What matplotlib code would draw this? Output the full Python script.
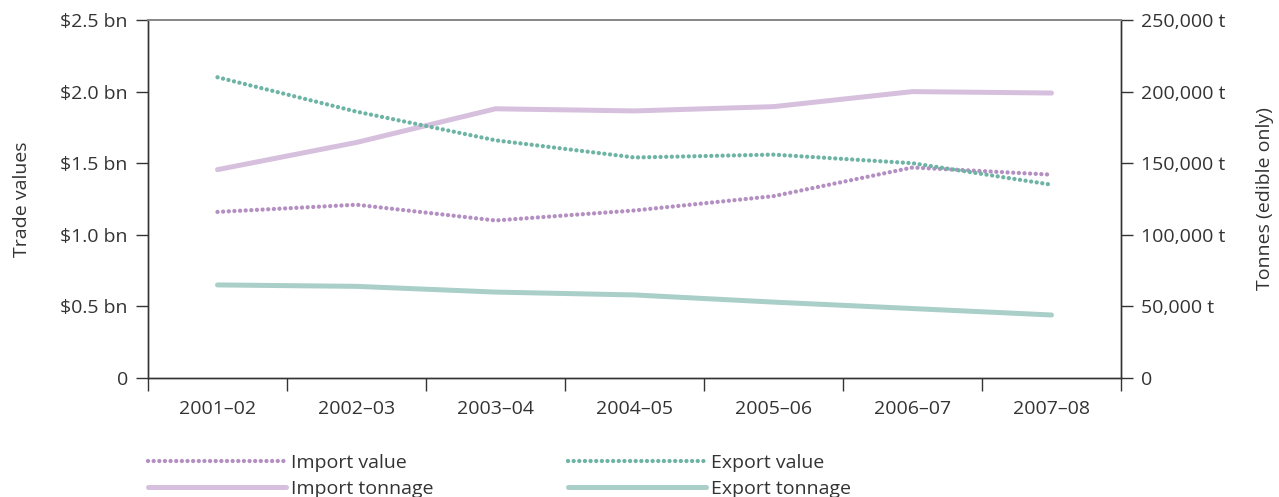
import matplotlib.pyplot as plt
from matplotlib.lines import Line2D

plt.rcParams['font.family'] = ['Open Sans', 'DejaVu Sans']
plt.rcParams['text.color'] = '#333333'

years = ['2001–02', '2002–03', '2003–04', '2004–05', '2005–06', '2006–07', '2007–08']

# trade values, $ bn
import_value = [1.16, 1.21, 1.10, 1.17, 1.27, 1.47, 1.42]
export_value = [2.10, 1.86, 1.66, 1.54, 1.56, 1.50, 1.35]

# edible tonnage, t
import_tonnage = [145500, 164500, 188000, 186500, 189500, 200000, 199000]
export_tonnage = [65000, 64000, 60000, 58000, 53000, 48500, 44000]

c_imp_dot = '#b48fc2'
c_imp_line = '#d6c0de'
c_exp_dot = '#6db4a4'
c_exp_line = '#a9cfc8'
ink = '#333333'
fs = 14

fig = plt.figure(figsize=(12.79, 4.97), dpi=100)
ax = fig.add_axes([148 / 1279, 1 - 378 / 497, (1121 - 148) / 1279, (378 - 20) / 497])
ax2 = ax.twinx()

x = list(range(len(years)))
dotted = dict(linestyle=(0, (0.01, 1.3)), linewidth=3.1, dash_capstyle='round')
solid = dict(linestyle='-', linewidth=3.6, solid_capstyle='round')

# tonnage on the right axis, dollar values on the left (drawn on top)
ax2.plot(x, import_tonnage, color=c_imp_line, **solid)
ax2.plot(x, export_tonnage, color=c_exp_line, **solid)
ax.plot(x, import_value, color=c_imp_dot, **dotted)
ax.plot(x, export_value, color=c_exp_dot, **dotted)
ax.set_zorder(ax2.get_zorder() + 1)
ax.patch.set_visible(False)

ax.set_xlim(-0.5, len(years) - 0.5)
ax.set_ylim(0, 2.5)
ax2.set_ylim(0, 250000)

ax.set_yticks([0, 0.5, 1.0, 1.5, 2.0, 2.5])
ax.set_yticklabels(['0', '$0.5 bn', '$1.0 bn', '$1.5 bn', '$2.0 bn', '$2.5 bn'])
ax2.set_yticks([0, 50000, 100000, 150000, 200000, 250000])
ax2.set_yticklabels(['0', '50,000 t', '100,000 t', '150,000 t', '200,000 t', '250,000 t'])

# category boundaries get the tick marks, centres get the labels
ax.set_xticks([i - 0.5 for i in range(len(years) + 1)])
ax.set_xticklabels([])
ax.set_xticks(x, minor=True)
ax.set_xticklabels(years, minor=True)
ax.tick_params(axis='x', which='major', direction='out', length=9.5, width=1, color=ink)
ax.tick_params(axis='x', which='minor', length=0, pad=16, labelsize=fs, labelcolor=ink)

for a in (ax, ax2):
    a.tick_params(axis='y', direction='out', length=8.5, width=1, color=ink,
                  labelsize=fs, labelcolor=ink, pad=6)
    for side in ('left', 'right', 'bottom'):
        a.spines[side].set_color(ink)
        a.spines[side].set_linewidth(1)
    a.spines['top'].set_color('#888888')
    a.spines['top'].set_linewidth(1.3)

ax.set_ylabel('Trade values', fontsize=fs, color=ink, labelpad=21)
ax2.set_ylabel('Tonnes (edible only)', fontsize=fs, color=ink, labelpad=22)

h_imp_v = Line2D([], [], color=c_imp_dot, **dotted)
h_imp_t = Line2D([], [], color=c_imp_line, **solid)
h_exp_v = Line2D([], [], color=c_exp_dot, **dotted)
h_exp_t = Line2D([], [], color=c_exp_line, **solid)

leg_kw = dict(loc='upper left', frameon=False, fontsize=fs, handlelength=7.1,
              handletextpad=0.25, borderpad=0, borderaxespad=0, labelspacing=0.4)
fig.legend([h_imp_v, h_imp_t], ['Import value', 'Import tonnage'],
           bbox_to_anchor=(148 / 1279, 1 - 454 / 497), **leg_kw)
fig.legend([h_exp_v, h_exp_t], ['Export value', 'Export tonnage'],
           bbox_to_anchor=(568 / 1279, 1 - 454 / 497), **leg_kw)

fig.savefig('out.png', dpi=100)
